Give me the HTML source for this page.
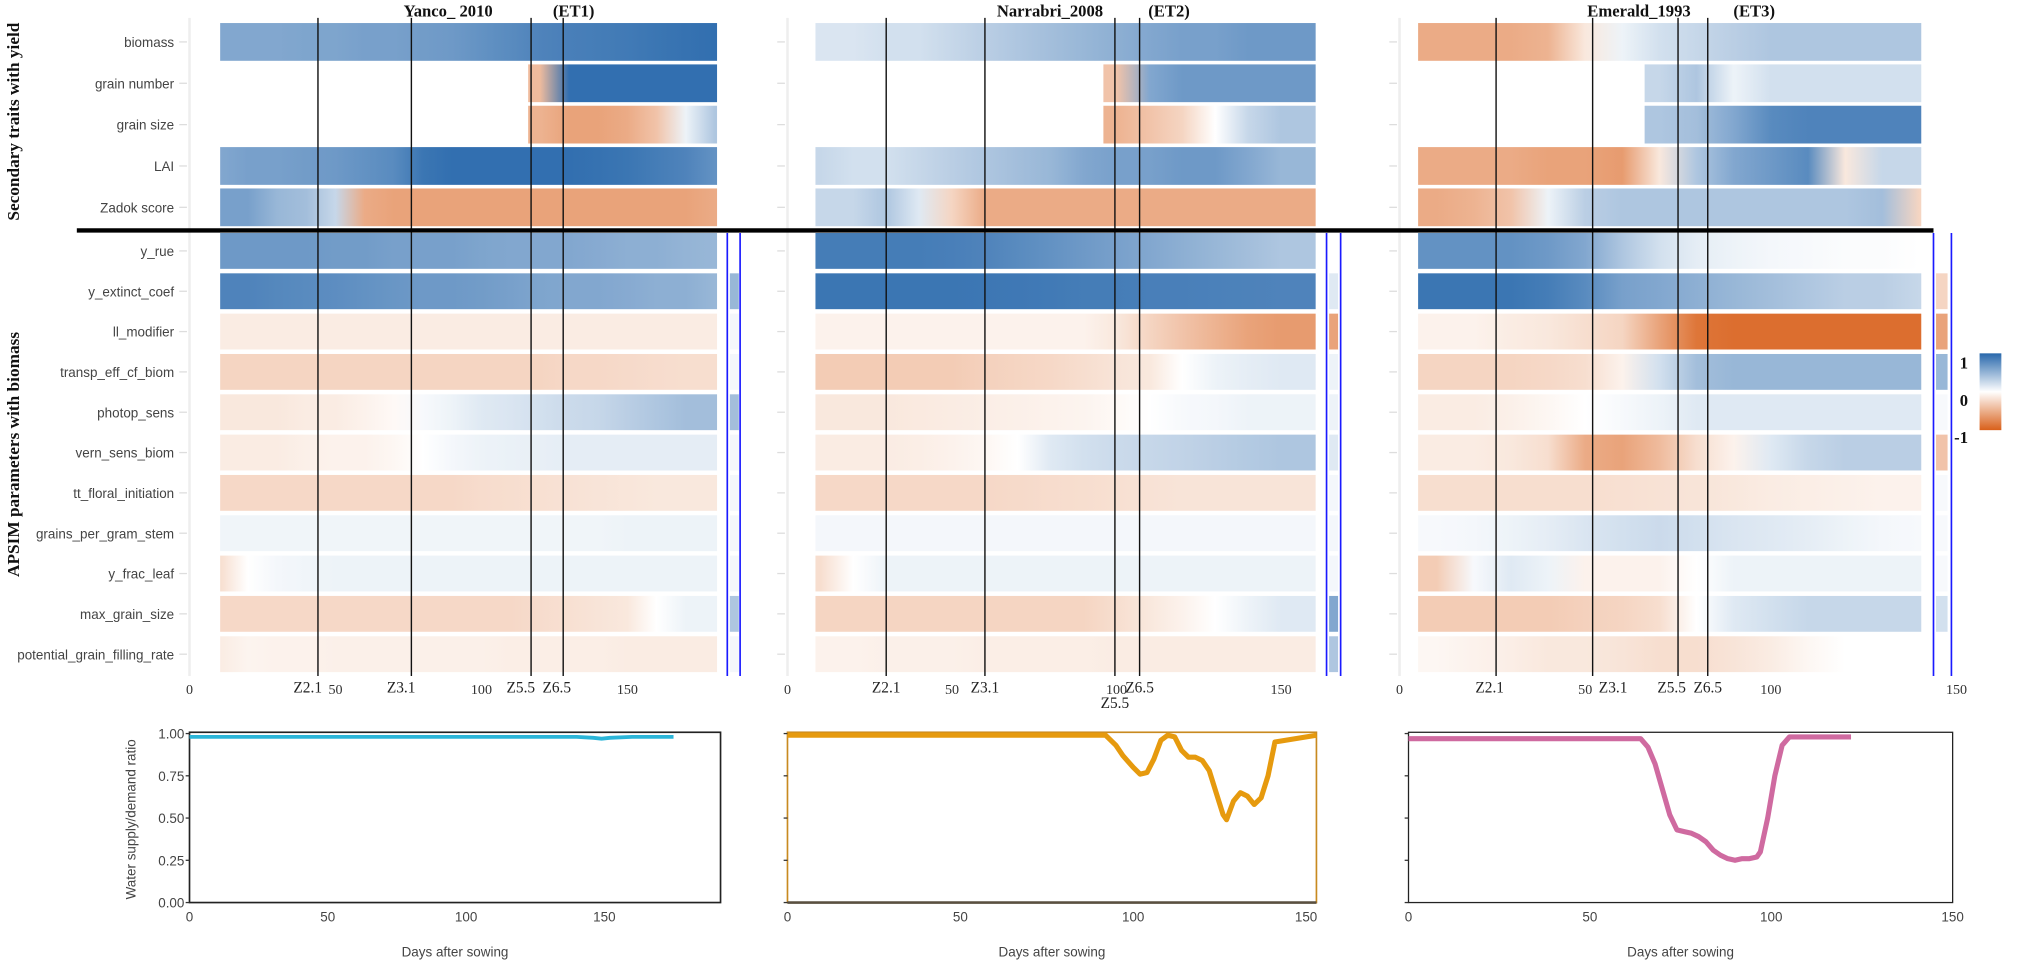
<!DOCTYPE html>
<html><head><meta charset="utf-8">
<style>
html,body{margin:0;padding:0;background:#fff;}
svg{display:block;}
.lbl{font-family:"Liberation Sans",sans-serif;font-size:10.5px;fill:#444;}
.ser{font-family:"Liberation Serif",serif;}
</style></head>
<body>
<svg id="fig" width="2018" height="964" viewBox="0 0 1576 753" preserveAspectRatio="none" xmlns="http://www.w3.org/2000/svg">
<defs id="defs"></defs>
<g id="root"></g>
</svg>
<script>
// ---------- DATA ----------
const rowNames = ["biomass","grain number","grain size","LAI","Zadok score","y_rue","y_extinct_coef","ll_modifier","transp_eff_cf_biom","photop_sens","vern_sens_biom","tt_floral_initiation","grains_per_gram_stem","y_frac_leaf","max_grain_size","potential_grain_filling_rate"];
const siteTitles = ["Yanco_ 2010","Narrabri_2008","Emerald_1993"];
const envTags = ["(ET1)","(ET2)","(ET3)"];
const stageNames = ["Z2.1","Z3.1","Z5.5","Z6.5"];
const stageDays1 = [44,76,117,128];
const stageDays2 = [30,60,99.5,107];
const stageDays3 = [26,52,75,83];
const axisTicks = [0,50,100,150];
const knots1 = [10,20,30,40,50,60,70,80,90,100,110,120,130,140,150,160,170,180];
const knots2 = [10,20,30,40,50,60,70,80,90,100,110,120,130,140,150];
const knots3 = [10,20,30,40,50,60,70,80,90,100,110,120,130,140];
const N = null;
const vals1 = [
 [0.5,0.5,0.5,0.52,0.52,0.55,0.55,0.58,0.6,0.65,0.7,0.75,0.78,0.8,0.82,0.85,0.88,0.9],
 [N,N,N,N,N,N,N,N,N,N,N,-0.35,0.9,0.9,0.9,0.9,0.9,0.9],
 [N,N,N,N,N,N,N,N,N,N,N,-0.4,-0.5,-0.5,-0.45,-0.3,0.05,0.3],
 [0.5,0.55,0.55,0.58,0.6,0.65,0.7,0.85,0.9,0.9,0.9,0.9,0.9,0.88,0.85,0.8,0.75,0.65],
 [0.55,0.55,0.4,0.35,0.2,-0.45,-0.5,-0.5,-0.5,-0.5,-0.5,-0.5,-0.5,-0.5,-0.5,-0.5,-0.5,-0.45],
 [0.6,0.6,0.6,0.6,0.58,0.58,0.55,0.55,0.55,0.52,0.5,0.5,0.5,0.48,0.45,0.45,0.42,0.4],
 [0.75,0.75,0.72,0.7,0.68,0.65,0.62,0.6,0.6,0.58,0.55,0.52,0.5,0.5,0.48,0.45,0.45,0.4],
 [-0.08,-0.08,-0.08,-0.08,-0.08,-0.08,-0.08,-0.08,-0.08,-0.08,-0.08,-0.08,-0.08,-0.08,-0.08,-0.08,-0.08,-0.08],
 [-0.2,-0.2,-0.2,-0.2,-0.2,-0.2,-0.2,-0.2,-0.2,-0.2,-0.2,-0.2,-0.18,-0.18,-0.17,-0.16,-0.15,-0.15],
 [-0.1,-0.1,-0.1,-0.08,-0.08,-0.05,-0.02,0.02,0.05,0.1,0.12,0.15,0.18,0.2,0.25,0.3,0.35,0.35],
 [-0.08,-0.08,-0.08,-0.06,-0.05,-0.05,-0.03,0,0.03,0.05,0.06,0.07,0.08,0.08,0.08,0.08,0.08,0.08],
 [-0.18,-0.18,-0.18,-0.18,-0.18,-0.18,-0.18,-0.18,-0.18,-0.16,-0.15,-0.14,-0.13,-0.12,-0.11,-0.1,-0.1,-0.1],
 [0.04,0.04,0.04,0.04,0.04,0.04,0.04,0.04,0.04,0.04,0.04,0.04,0.04,0.04,0.05,0.05,0.05,0.05],
 [-0.15,0,0.03,0.04,0.05,0.05,0.05,0.05,0.05,0.05,0.05,0.05,0.05,0.05,0.05,0.05,0.05,0.05],
 [-0.18,-0.18,-0.18,-0.18,-0.18,-0.18,-0.18,-0.18,-0.18,-0.18,-0.18,-0.16,-0.14,-0.12,-0.1,0,0.05,0.05],
 [-0.08,-0.04,-0.05,-0.05,-0.06,-0.06,-0.06,-0.06,-0.06,-0.06,-0.07,-0.07,-0.07,-0.07,-0.08,-0.08,-0.08,-0.08]
];
const vals2 = [
 [0.12,0.12,0.15,0.15,0.2,0.25,0.3,0.35,0.4,0.45,0.5,0.55,0.55,0.6,0.6],
 [N,N,N,N,N,N,N,N,N,-0.3,0.5,0.6,0.6,0.6,0.6],
 [N,N,N,N,N,N,N,N,N,-0.4,-0.3,-0.2,0,0.2,0.3],
 [0.2,0.15,0.15,0.2,0.25,0.3,0.35,0.4,0.5,0.55,0.55,0.6,0.6,0.5,0.4],
 [0.2,0.2,0.3,0.1,-0.2,-0.45,-0.45,-0.45,-0.45,-0.45,-0.45,-0.45,-0.45,-0.45,-0.45],
 [0.8,0.8,0.8,0.8,0.78,0.75,0.7,0.65,0.6,0.55,0.5,0.45,0.4,0.35,0.3],
 [0.85,0.85,0.85,0.85,0.85,0.84,0.83,0.82,0.8,0.8,0.78,0.78,0.77,0.76,0.75],
 [-0.05,-0.05,-0.05,-0.05,-0.05,-0.05,-0.05,-0.05,-0.05,-0.1,-0.2,-0.3,-0.4,-0.5,-0.55],
 [-0.25,-0.25,-0.25,-0.25,-0.25,-0.22,-0.2,-0.18,-0.15,-0.12,-0.1,0,0.05,0.08,0.1],
 [-0.1,-0.1,-0.1,-0.09,-0.08,-0.07,-0.06,-0.05,-0.04,-0.02,0,0.02,0.03,0.05,0.05],
 [-0.08,-0.08,-0.08,-0.07,-0.05,-0.03,0,0.1,0.15,0.18,0.2,0.22,0.25,0.28,0.3],
 [-0.18,-0.18,-0.18,-0.18,-0.18,-0.18,-0.17,-0.16,-0.15,-0.14,-0.13,-0.12,-0.12,-0.12,-0.12],
 [0.03,0.03,0.03,0.03,0.03,0.03,0.03,0.03,0.03,0.03,0.03,0.03,0.03,0.03,0.03],
 [-0.15,0,0.05,0.05,0.05,0.05,0.05,0.05,0.05,0.05,0.05,0.05,0.05,0.05,0.05],
 [-0.2,-0.2,-0.2,-0.2,-0.2,-0.2,-0.2,-0.2,-0.2,-0.15,-0.1,-0.05,0,0.05,0.1],
 [-0.05,-0.05,-0.06,-0.06,-0.06,-0.07,-0.07,-0.07,-0.07,-0.08,-0.08,-0.08,-0.08,-0.08,-0.08]
];
const vals3 = [
 [-0.45,-0.45,-0.45,-0.4,-0.1,0.05,0.15,0.2,0.25,0.3,0.3,0.3,0.3,0.3],
 [N,N,N,N,N,N,0.2,0.3,0.05,0.15,0.15,0.15,0.15,0.15],
 [N,N,N,N,N,N,0.3,0.35,0.5,0.7,0.75,0.75,0.75,0.75],
 [-0.45,-0.45,-0.45,-0.5,-0.5,-0.55,-0.1,0.3,0.5,0.6,0.7,-0.1,0.2,0.2],
 [-0.45,-0.4,-0.3,0.05,0.25,0.3,0.3,0.3,0.3,0.3,0.3,0.3,0.35,-0.2],
 [0.65,0.65,0.65,0.6,0.5,0.3,0.15,0.08,0.05,0.03,0.02,0.01,0.01,0],
 [0.85,0.85,0.85,0.8,0.7,0.55,0.5,0.45,0.4,0.35,0.3,0.25,0.25,0.2],
 [-0.05,-0.05,-0.08,-0.1,-0.15,-0.2,-0.5,-0.8,-0.85,-0.85,-0.85,-0.85,-0.85,-0.85],
 [-0.2,-0.2,-0.2,-0.18,-0.15,-0.05,0.15,0.35,0.4,0.4,0.4,0.4,0.4,0.4],
 [-0.08,-0.08,-0.06,-0.03,0,0.02,0.05,0.1,0.1,0.1,0.1,0.1,0.1,0.1],
 [-0.08,-0.08,-0.1,-0.15,-0.45,-0.5,-0.35,-0.15,-0.05,0.1,0.2,0.25,0.25,0.25],
 [-0.15,-0.15,-0.15,-0.15,-0.15,-0.14,-0.13,-0.12,-0.1,-0.08,-0.07,-0.06,-0.05,-0.05],
 [0.02,0.03,0.05,0.08,0.12,0.15,0.18,0.15,0.12,0.1,0.08,0.05,0.03,0.02],
 [-0.25,0.02,0.1,0.05,-0.05,-0.05,-0.05,0,0.05,0.05,0.05,0.05,0.05,0.05],
 [-0.25,-0.25,-0.25,-0.25,-0.22,-0.2,-0.15,0,0.1,0.15,0.2,0.2,0.2,0.2],
 [-0.03,-0.05,-0.07,-0.1,-0.1,-0.12,-0.15,-0.15,-0.12,-0.08,-0.03,0,0,0]
];
const side1 = [N,0.4,0.03,0.03,0.35,0.03,0.03,0.03,0.03,0.3,0.03];
const side2 = [N,0.1,-0.5,0.05,0.05,0.1,0.03,0.03,0.03,0.5,0.3];
const side3 = [N,-0.2,-0.5,0.4,0.02,-0.3,0.02,0.02,0.02,0.15,N];
const wDays1 = [0,20,40,60,80,100,120,140,146,149,152,160,175];
const wVals1 = [0.98,0.98,0.98,0.98,0.98,0.98,0.98,0.98,0.975,0.97,0.975,0.98,0.98];
const wDays2 = [0,20,40,60,80,92,95,97,100,102,104,106,108,110,112,114,116,118,120,122,124,126,127,129,131,133,135,137,139,141,153];
const wVals2 = [0.99,0.99,0.99,0.99,0.99,0.99,0.93,0.87,0.8,0.76,0.77,0.85,0.96,0.99,0.98,0.9,0.86,0.86,0.84,0.78,0.65,0.52,0.49,0.6,0.65,0.63,0.58,0.62,0.75,0.95,0.99];
const wDays3 = [0,64,66,68,70,72,74,76,78,80,82,84,86,88,90,92,94,96,97,99,101,103,105,110,122];
const wVals3 = [0.97,0.97,0.92,0.82,0.67,0.52,0.43,0.42,0.41,0.39,0.36,0.31,0.28,0.26,0.25,0.26,0.26,0.27,0.3,0.5,0.75,0.93,0.98,0.98,0.98];
const yTicks = [0,0.25,0.5,0.75,1];
const yTickLabels = ["0.00","0.25","0.50","0.75","1.00"];
const barTicks = ["1","0","-1"];

// ---------- LAYOUT ----------
const NS="http://www.w3.org/2000/svg";
const root=document.getElementById('root');
const defs=document.getElementById('defs');
function mk(tag,attrs,parent){const e=document.createElementNS(NS,tag);for(const k in attrs)e.setAttribute(k,attrs[k]);(parent||root).appendChild(e);return e;}
function col(v){
  const t=Math.pow(Math.min(1,Math.abs(v)/0.95),0.85);
  const c=v>=0?[40,104,172]:[217,96,26];
  const w=[255,255,255];
  return 'rgb('+c.map((x,i)=>Math.round(w[i]+(x-w[i])*t)).join(',')+')';
}
const panels=[
 {x0:148,k:2.28,hs:10.5,he:180.7,knots:knots1,vals:vals1,side:side1,sideX:570,sideW:7,blue:[568,578],stages:stageDays1,sdx:[-8,-8,-8,-5],title:350,tag:448,
  bx0:148,bk:2.16,bmax:192,wd:wDays1,wv:wVals1,wc:'#2bb5d8',frame:'#222'},
 {x0:615,k:2.57,hs:8.5,he:160.5,knots:knots2,vals:vals2,side:side2,sideX:1038,sideW:7,blue:[1036,1047],stages:stageDays2,sdx:[0,0,0,0],title:820,tag:913,
  bx0:615,bk:2.7,bmax:153,wd:wDays2,wv:wVals2,wc:'#e69a0e',frame:'#c88a20'},
 {x0:1093,k:2.9,hs:5,he:140.5,knots:knots3,vals:vals3,side:side3,sideX:1512,sideW:9,blue:[1510,1524],stages:stageDays3,sdx:[-5,16,-5,0],title:1280,tag:1370,
  bx0:1100,bk:2.833,bmax:150,wd:wDays3,wv:wVals3,wc:'#cf6aa0',frame:'#222'}
];
function rowTop(i){return i<5?18+i*32.3:182+(i-5)*31.5;}
function rowH(i){return i<5?29.5:28;}

let t=mk('text',{x:0,y:0,transform:'translate(15,95) rotate(-90)','text-anchor':'middle',class:'ser','font-size':'13.5','font-weight':'bold',fill:'#111'});
t.textContent='Secondary traits with yield';


t=mk('text',{x:0,y:0,transform:'translate(15,355) rotate(-90)','text-anchor':'middle',class:'ser','font-size':'13.5','font-weight':'bold',fill:'#111'});
t.textContent='APSIM parameters with biomass';



panels.forEach((p,pi)=>{
  const g=mk('g',{});
  
  
  const X=d=>p.x0+d*p.k;
  mk('line',{x1:p.x0,x2:p.x0,y1:14,y2:528,stroke:'#eee','stroke-width':2},g);
  rowNames.forEach((name,ri)=>{
    const y=rowTop(ri),h=rowH(ri);
    mk('line',{x1:p.x0-8,x2:p.x0-2,y1:y+h/2,y2:y+h/2,stroke:'#ddd','stroke-width':1},g);
    if(pi===0){
      const l=mk('text',{x:p.x0-12,y:y+h/2+4,'text-anchor':'end',class:'lbl'},g);
      l.textContent=name;
      
      
    }
    const v=p.vals[ri];
    let first=v.findIndex(x=>x!==null);
    const ds=first===0?p.hs:p.knots[first]-4;
    const gid='g'+pi+'_'+ri;
    const lg=mk('linearGradient',{id:gid,gradientUnits:'userSpaceOnUse',x1:X(ds),x2:X(p.he),y1:0,y2:0},defs);
    const span=X(p.he)-X(ds);
    v.forEach((val,ki)=>{ if(val===null)return;
      const off=Math.max(0,Math.min(1,(X(p.knots[ki])-X(ds))/span));
      mk('stop',{offset:off,'stop-color':col(val)},lg);
    });
    const r=mk('rect',{x:X(ds),y:y,width:span,height:h,fill:'url(#'+gid+')'},g);
    
    
    if(ri>=5){ const sv=p.side[ri-5]; if(sv!==null){
      const s=mk('rect',{x:p.sideX,y:y,width:p.sideW,height:h,fill:col(sv)},g);
      
      
    }}
  });
  p.stages.forEach((d,si)=>{
    const ln=mk('line',{x1:X(d),x2:X(d),y1:14,y2:528,stroke:'#111','stroke-width':1.1},g);
    
    
    const down=(pi===1&&si===2);
    const tl=mk('text',{x:X(d)+p.sdx[si],y:down?553:541,'text-anchor':'middle',class:'ser','font-size':'12',fill:'#222'},g);
    tl.textContent=stageNames[si];
    
    
  });
  axisTicks.forEach(tk=>{
    const tx=mk('text',{x:X(tk),y:542,'text-anchor':'middle',class:'ser','font-size':'11',fill:'#333'},g);
    tx.textContent=tk;
    
    
  });
  p.blue.forEach(bx=>mk('line',{x1:bx,x2:bx,y1:182,y2:528,stroke:'#1a1aff','stroke-width':1.3},g));
  const tt=mk('text',{x:p.title,y:13,'text-anchor':'middle',class:'ser','font-size':'13','font-weight':'bold',fill:'#111'},g);
  tt.textContent=siteTitles[pi];
  
  
  const et=mk('text',{x:p.tag,y:13,'text-anchor':'middle',class:'ser','font-size':'13','font-weight':'bold',fill:'#111'},g);
  et.textContent=envTags[pi];
  
  

  const bg=mk('g',{});
  
  
  const BX=d=>p.bx0+d*p.bk;
  const BY=v=>705-132*v;
  mk('rect',{x:BX(0),y:BY(1)-1,width:BX(p.bmax)-BX(0),height:BY(0)-BY(1)+1,fill:'none',stroke:p.frame,'stroke-width':pi===2?1:1.3},bg);
  if(pi===1) mk('line',{x1:BX(0),x2:BX(p.bmax),y1:BY(0),y2:BY(0),stroke:'#5a5040','stroke-width':2},bg);
  yTicks.forEach((v,i)=>{
    mk('line',{x1:BX(0)-3,x2:BX(0),y1:BY(v),y2:BY(v),stroke:'#333','stroke-width':1},bg);
    if(pi===0){
      const yl=mk('text',{x:BX(0)-4,y:BY(v)+4,'text-anchor':'end',class:'lbl','font-size':'11.5',fill:'#222'},bg);
      yl.textContent=yTickLabels[i];
      
      
    }
  });
  axisTicks.forEach(tk=>{ if(tk>p.bmax+1)return;
    const xl=mk('text',{x:BX(tk),y:720,'text-anchor':'middle',class:'lbl','font-size':'12',fill:'#222'},bg);
    xl.textContent=tk;
    
    
  });
  const xt=mk('text',{x:(BX(0)+BX(p.bmax))/2,y:747,'text-anchor':'middle',class:'lbl','font-size':'11.5',fill:'#222'},bg);
  xt.textContent='Days after sowing';
  
  
  const pts=p.wd.map((d,i)=>BX(d).toFixed(1)+','+BY(p.wv[i]).toFixed(1)).join(' ');
  const pl=mk('polyline',{points:pts,fill:'none',stroke:p.wc,'stroke-width':pi===0?3:4,'stroke-linejoin':'round'},bg);
  
  
});
t=mk('text',{x:0,y:0,transform:'translate(106,640) rotate(-90)','text-anchor':'middle',class:'lbl','font-size':'11.5',fill:'#222'});
t.textContent='Water supply/demand ratio';


t=mk('line',{x1:60,x2:1510,y1:180,y2:180,stroke:'#000','stroke-width':3.5});


const cg=mk('linearGradient',{id:'cbar',x1:0,x2:0,y1:0,y2:1},defs);
[[0,1],[0.5,0],[1,-1]].forEach(s=>mk('stop',{offset:s[0],'stop-color':col(s[1])},cg));
t=mk('rect',{x:1546,y:276,width:17,height:60,fill:'url(#cbar)'});


barTicks.forEach((b,i)=>{
  const bt=mk('text',{x:1537,y:288+i*29,'text-anchor':'end',class:'ser','font-size':'13','font-weight':'bold',fill:'#111'});
  bt.textContent=b;
  
  
});
</script>
</body></html>
